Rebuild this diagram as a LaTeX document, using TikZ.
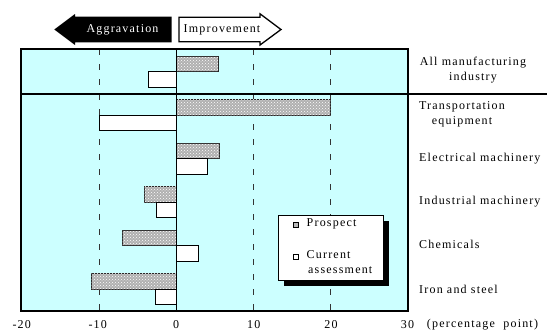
\documentclass[tikz,border=0pt]{standalone}
\usepackage{fontspec}
\setmainfont{Liberation Serif}
\newfontfamily\lblfont{Liberation Serif}[LetterSpace=10]
\usetikzlibrary{patterns}
\definecolor{plotbg}{HTML}{CCFFFF}
\tikzset{
  prosp/.style={draw=black!85, line width=0.9pt, fill=gray!62, postaction={pattern=crosshatch dots, pattern color=white}},
  curr/.style={draw=black, line width=0.9pt, fill=white},
  gridln/.style={dash pattern=on 6pt off 9pt, line width=0.6pt, black!80},
  lab/.style={font=\lblfont\fontsize{12}{15}\selectfont, inner sep=0pt, align=center},
  num/.style={font=\lblfont\fontsize{12}{14}\selectfont, inner sep=0pt},
}
\begin{document}
\begin{tikzpicture}[x=1pt, y=-1pt]
\useasboundingbox (0,0) rectangle (547,332);
% background
\fill[plotbg] (21,49) rectangle (407.7,310.7);
% grid
\foreach \gx in {99.7,253.7,330.7} \draw[gridln] (\gx,49) -- (\gx,310.7);
% bars
\draw[prosp] (176.7,56) rectangle (218.3,71.5);
\draw[curr] (148.3,71.5) rectangle (176.7,87);
\draw[prosp] (176.7,99.5) rectangle (330.7,115);
\draw[curr] (99.7,115) rectangle (176.7,130.5);
\draw[prosp] (176.7,143) rectangle (219.3,158.5);
\draw[curr] (176.7,158.5) rectangle (207.5,174);
\draw[prosp] (144,186.5) rectangle (176.7,202);
\draw[curr] (156.7,202) rectangle (176.7,217.5);
\draw[prosp] (122.7,230) rectangle (176.7,245.5);
\draw[curr] (176.7,245.5) rectangle (198.3,261);
\draw[prosp] (91.7,273.5) rectangle (176.7,289);
\draw[curr] (155,289) rectangle (176.7,304.5);
% zero axis
\draw[line width=1.2pt] (176.7,49) -- (176.7,310.7);
% frame
\draw[line width=1.8pt] (21,49) rectangle (407.7,310.7);
\draw[line width=1.5pt] (21,94) -- (547,94);
% legend
\fill[black] (283.8,220.5) rectangle (389,285.5);
\draw[fill=white, line width=0.8pt] (278.3,215) rectangle (383.3,280);
\draw[fill=gray!55, line width=0.8pt] (293.5,222.5) rectangle (298.5,227.3);
\draw[fill=white, line width=0.8pt] (293.5,254.5) rectangle (298.5,259.3);
\node[lab, anchor=west] (lp) at (306.5,223.5) {Prospect};
\node[lab, anchor=west, align=left] (lc) at (306.5,262) {Current\\\hspace*{1.5pt}assessment};
% top arrows
\fill[black] (171.7,16.7) -- (75,16.7) -- (75,14) -- (54.3,29.5) -- (75,45) -- (75,42.3) -- (171.7,42.3) -- cycle;
\draw[line width=1.3pt, fill=white] (179,17.3) -- (260,17.3) -- (260,13.8) -- (281,29.5) -- (260,45) -- (260,41.8) -- (179,41.8) -- cycle;
\node[lab, text=white] (agg) at (122.5,29.5) {Aggravation};
\node[lab] (imp) at (222,29.5) {Improvement};
% category labels
\node[lab] (c1) at (473,70) {All manufacturing\\industry};
\node[lab] (c2) at (462,114) {Transportation\\equipment};
\node[lab, anchor=west] (c3) at (419,158.5) {Electrical machinery};
\node[lab, anchor=west] (c4) at (419,201.5) {Industrial machinery};
\node[lab, anchor=west] (c5) at (419,244.5) {Chemicals};
\node[lab, anchor=west] (c6) at (419,289) {Iron and steel};
% axis numbers
\node[num] (n1) at (21.7,325) {-20};
\node[num] (n2) at (97.7,325) {-10};
\node[num] (n3) at (176,325) {0};
\node[num] (n4) at (253.7,325) {10};
\node[num] (n5) at (331,325) {20};
\node[num] (n6) at (407.5,325) {30};
\node[num] (n7) at (482.5,325) {(percentage\ \ point)};
\end{tikzpicture}
\end{document}
